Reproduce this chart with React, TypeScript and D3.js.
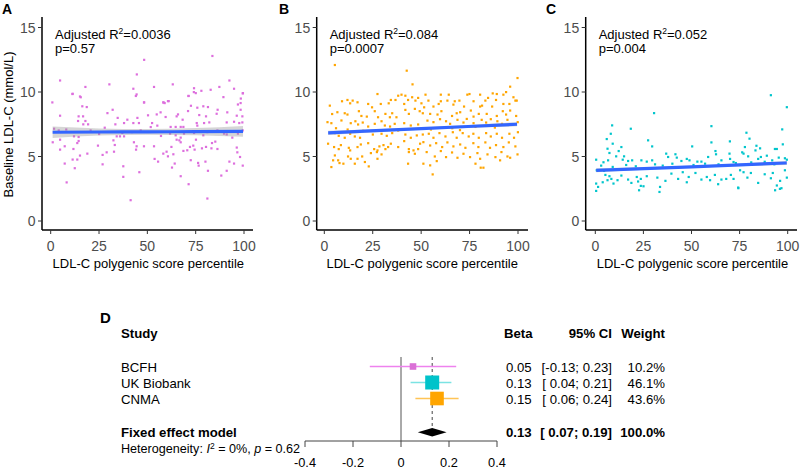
import React from "react";
import * as d3 from "d3";

type Pt = [number, number];

// Panel A (BCFH) : [percentile, LDL-C]
const scatterA: Pt[] = [
[0.8,9.2],[4.8,10.9],[11.2,9.85],[15.5,9.6],[17.9,10.4],[30.3,10.6],[42.7,10.26],[44.5,11.37],[44,9.7],[48.3,12.5],[53.4,10.4],[48.3,9.2],[63.1,10.6],[74.1,10.3],[71.2,9.7],[74,10.0],[77.9,10.1],[83.6,12.8],[87.2,10.4],[92.4,10.9],[94.8,10.26],[99.3,9.9],[98.3,9.5],[58.3,9.2],[61,9.3],
[11.3,9.87],[15.1,9.66],[44.4,9.82],[71.3,9.7],[75,9.92],[82.7,10.18],[89.3,9.61],[99.4,9.92],[48.2,9.2],[58.2,9.2],[60.6,9.3],
[16.3,8.9],[18.6,8.84],[4.8,8.17],[14.4,8.12],[16.7,8.12],[14.1,7.76],[17.9,7.76],[19.3,7.5],[16.8,7.5],[29.3,8.37],[32,8.63],[34.6,8.0],[33.4,7.5],[37.9,7.6],[39.6,7.86],[42.7,7.6],[44.8,8.0],[45.6,7.6],[50.3,8.2],[52.4,7.6],[54.8,8.27],[56.8,8.43],[58.9,9.15],[59.4,8.07],[55.1,7.4],[65.1,8.12],[65.8,8.27],[68.2,7.86],[71,8.53],[72.5,8.94],[75.8,8.79],[78.9,8.9],[81.3,8.84],[76.8,8.22],[80.3,8.12],[82,7.65],[79.3,7.6],[75.8,7.4],[86.3,8.63],[85.8,8.32],[91.3,8.43],[96.8,9.04],[98.2,9.15],[96.2,8.17],[98.2,8.63],[99.1,8.12],[91,7.65],[94.8,7.7],[97.5,7.6],[99.1,7.65],[67.2,7.3],[75.5,7.6],[62,7.3],[64.6,7.3],[68.6,7.3],
[1.7,7.16],[4.1,7.03],[12,6.57],[14.4,6.52],[20.6,7.03],[27.9,7.24],[34.1,6.57],[37.9,6.57],[35.8,6.57],[46.5,7.03],[51.7,7.29],[61.7,6.78],[64.6,6.65],[67.2,6.47],[68.9,6.78],[74.1,6.83],[78.9,6.65],[81,6.9],[86.2,7.03],[89.6,6.78],[93.9,6.47],[96.8,6.78],[99.3,7.03],[91,6.72],[37,6.83],[8,7.1],[25,6.75],[42,6.9],[57,6.6],
[1,6.11],[4.8,6.31],[14.4,6.21],[13.7,6.05],[7.2,5.8],[4.8,5.54],[11.7,5.59],[15.1,5.08],[13.7,4.77],[11.3,4.77],[7.2,4.46],[18.9,5.23],[24.4,5.85],[26.8,5.13],[28.9,5.33],[32.4,6.26],[33.1,5.9],[32.7,5.38],[26.8,4.4],[37.5,4.25],[43,6.11],[44.4,5.8],[44.1,5.54],[48.2,5.8],[53.4,5.8],[53.7,4.82],[55.5,4.61],[58.2,5.23],[59.9,5.38],[60.6,5.02],[62.4,5.75],[63.4,5.18],[62.7,4.15],[64.1,4.46],[65.1,6.31],[66.5,6.26],[67.2,6.11],[68.6,5.44],[70.6,5.49],[72,5.75],[73.7,5.85],[74.4,5.54],[75.1,6.31],[76.2,4.51],[76.5,4.3],[78.2,5.64],[80.3,5.75],[83.1,5.64],[83.4,6.05],[85.1,6.16],[86.2,5.59],[80,4.61],[81.3,3.9],[72.4,4.72],[92.4,4.61],[94.8,4.46],[96.5,5.33],[96.2,5.7],[97.9,4.97],[99.3,4.3],[91,3.9],
[12.4,4.1],[8.2,3.0],[37.5,3.43],[45.8,3.79],[67.2,3.48],[71.3,2.86],[88.2,3.53],[41.3,1.62],[81,1.75]
];

// Panel B (UK Biobank)
const scatterB: Pt[] = [
[5.4,12.1],[42.5,11.66],[45.5,10.6],[27.4,9.85],[2.8,8.95],[9.1,9.29],[11.9,9.39],[13.3,9.13],[14.6,9.34],[17.1,9.21],[22.6,9.08],[24.6,8.82],[29.1,9.08],[33.2,9.13],[34.3,9.39],[36.7,9.39],[38.1,9.72],[39.8,9.8],[41.8,9.72],[43.2,9.39],[45.3,9.6],[47,9.34],[48.4,9.55],[50.1,9.13],
[4,8.3],[6.7,8.44],[10.5,8.36],[11.9,8.26],[17.8,8.52],[19.1,8.15],[21.9,8.1],[26,8.52],[27.7,8.05],[31.5,8.31],[35,8.36],[33.8,8.05],[37.2,8.05],[41.8,8.62],[43.6,8.31],[46.7,8.7],[49.2,8.52],[41.2,9.08],
[1.6,7.67],[3.6,7.59],[8.8,7.8],[13.6,7.59],[16,7.74],[17.4,7.49],[19.8,7.64],[22.6,7.33],[26,7.54],[29.5,7.74],[31.2,7.41],[33.9,7.33],[36.3,7.54],[41.2,7.59],[44.6,7.41],[48.4,7.49],[5.4,6.82],[7.4,6.61],[10.5,6.46],[13.3,6.77],[15.7,6.56],[18.4,6.46],[25,6.71],[29.5,6.77],[32.2,6.61],[35,6.82],[41.8,6.71],[44.6,6.46],[47.7,6.64],[27.7,7.02],[38.1,7.02],[6,7.2],[20,7.0],[12,7.1],
[1.9,6],[5,5.74],[7.4,5.58],[8.5,5.89],[12.6,5.68],[13.3,5.48],[17.1,5.74],[18.8,5.94],[22.6,6.04],[25.7,5.58],[27.4,5.48],[28.4,5.79],[30.5,5.89],[31.5,5.58],[32.9,5.74],[34.3,6],[38.1,5.74],[43.6,5.58],[46,5.48],[48.4,5.58],[49.4,6],[41.2,6.2],[5.4,5.09],[12.2,5.01],[19.5,5.01],[24,5.27],[27.1,5.35],[29.5,5.17],[43.6,5.35],[46.7,5.22],
[3.6,4.19],[7.1,4.71],[7.8,4.5],[13.6,4.83],[15.7,4.45],[20.9,4.58],[22.9,4.24],[17.1,4.83],[27.4,4.83],[43.2,4.45],[4.5,4.71],[9.8,4.45],
[99.7,11.09],[95.9,10.42],[93.8,10.0],[92.4,9.8],[86.9,9.9],[89,9.85],[80.4,9.8],[74.9,9.85],[73.8,9.8],[64.2,9.8],[60.1,9.8],[52.2,9.8],[97.6,9.6],[53.7,9.34],[60.1,9.29],[63.5,9.34],[67.3,9.29],[69.7,9.34],[77,9.29],[83.1,9.34],[84.5,9.55],[88.6,9.39],[98.6,9.34],[99.3,9.34],
[51.5,8.82],[56.3,8.88],[59,9.08],[66.6,9.03],[72.1,8.88],[80.4,8.88],[81.4,8.95],[86.6,8.88],[92.4,9.08],[95.5,9.08],[50.8,8.36],[54.6,8.31],[58.4,8.26],[60.4,8.52],[65.9,8.15],[68.3,8.36],[70.1,8.44],[75.6,8.57],[77,8.1],[79.7,8.31],[83.8,8.31],[89,8.15],[92.1,8.52],[93.8,8.26],[95.9,8.57],[99,8.15],
[53.2,7.79],[56.3,7.67],[59.7,7.9],[62.8,7.74],[64.9,7.54],[68.7,7.85],[71.8,7.64],[73.5,7.92],[77,7.59],[81.2,7.85],[83.5,7.64],[85.9,7.9],[89.3,7.74],[91.7,7.54],[94.5,7.85],[96.9,7.49],[99.8,7.67],[55,7.1],[66,7.2],[78,7.3],[88,7.25],[70,7.05],
[50.8,6.71],[53.9,6.77],[56.3,6.46],[59.4,6.82],[62.5,6.56],[66.3,6.89],[68.3,6.46],[71.4,6.82],[74.5,6.56],[76.9,6.77],[79.7,6.46],[83.5,6.82],[85.9,6.56],[89,6.77],[91.7,6.46],[95.5,6.77],[97.9,6.46],[99.9,6.89],
[51.1,6.12],[54.6,5.86],[57.7,6.04],[60.8,5.74],[63.5,6.1],[66.6,5.79],[70.1,5.94],[72.8,5.68],[76.9,6.04],[79.5,5.74],[83.1,6.1],[85.5,5.68],[88.6,5.89],[92.4,5.74],[95.2,6.1],[98.6,5.79],
[52.8,5.35],[57,5.01],[60.1,5.43],[62.8,4.96],[65.9,5.32],[68.7,4.91],[71.8,5.22],[75.2,4.96],[79,5.27],[80.4,4.83],[84.2,5.17],[88.3,4.96],[91.4,5.35],[94.5,5.01],[95.9,4.91],[99.7,5.17],
[51.1,4.45],[54.6,4.32],[58,4.65],[78,4.45],[80.7,4.14],[82.1,4.14],[55.9,3.62],[90.7,4.71]
];

// Panel C (CNMA)
const scatterC: Pt[] = [
[91.2,9.76],[99.5,8.83],[30.5,8.37],[8.7,7.42],[18.4,7.16],[60.3,7.36],[97.1,7.11],[8,6.77],[5.9,6.36],[27.4,6.26],[9,6.0],[6.3,5.61],[12.1,5.43],[13.5,5.74],[7.3,5.28],[29.5,5.79],[60.3,6.1],[69.9,6.18],[78.5,6.85],[80.1,6.39],[93.3,5.59],[97.4,5.95],[77.7,5.74],[83.7,5.84],[85.6,5.64],[50.3,5.79],[62.4,5.43],[76.3,5.33],[94.3,5.59],
[0.4,4.76],[4.2,4.56],[6.6,4.71],[10.8,5.02],[14.2,4.76],[14.9,5.02],[17,4.66],[19.1,4.71],[23.9,4.71],[26.7,4.61],[29.5,4.71],[36.8,5.23],[37.8,4.97],[41.6,5.18],[42.3,4.92],[44.7,4.66],[47.5,4.82],[48.9,4.71],[53,4.61],[55.1,4.61],[58.6,4.97],[62.7,5.18],[65.5,4.71],[69.7,5.23],[70,4.82],[71.8,4.58],[77,5.23],[79.4,5.02],[83.2,5.48],[84.6,4.82],[86,4.97],[89.1,5.07],[91.9,4.71],[95.3,4.92],[98.5,4.87],[99.5,4.76],
[3,4.3],[9,4.2],[16,4.35],[21,4.25],[31,4.4],[35,4.3],[40,4.45],[51,4.35],[57,4.45],[64,4.4],[73,4.5],[81,4.55],[88,4.6],[93,4.4],
[0.7,3.94],[4.5,3.89],[5.2,3.58],[7.3,3.48],[8.3,3.27],[6.3,3.17],[3.8,3.01],[0.4,2.91],[1.4,2.65],[9.4,2.91],[11.5,3.17],[13.5,3.53],[17,3.22],[18.7,2.96],[21.5,3.42],[22.2,3.07],[23.6,3.27],[26.7,3.48],[25,2.7],[32.2,3.37],[33.6,2.65],[36.4,3.12],[39.5,3.68],[43,3.27],[45.4,3.79],[47.5,3.01],[48.5,3.42],[52,3.73],[55.1,3.22],[57.9,3.42],[59.6,3.17],[62.1,3.58],[63.8,2.86],[65.5,3.22],[68,3.27],[70.4,3.58],[71.8,3.27],[75.2,3.94],[77,3.79],[79,3.37],[80.8,3.73],[84.6,2.96],[88,3.63],[91.2,3.32],[92.2,3.73],[94.3,2.76],[96,3.12],[98.5,3.94],[99.5,3.37],[74.2,2.6],[96.7,2.55],
[0.4,2.34],[22.7,2.39],[33.3,2.26],[74.3,2.55],[93.4,2.39],[95.9,2.5],[23.6,2.73]
];

// regression fits: [percentile, fitted, CI half-width]
const fitA: [number, number, number][] = [[1, 6.88, 0.45], [25, 6.9, 0.28], [50, 6.91, 0.22], [75, 6.93, 0.28], [99.5, 6.95, 0.42]];
const fitB: [number, number, number][] = [[2, 6.83, 0.16], [50, 7.16, 0.08], [99.5, 7.5, 0.16]];
const fitC: [number, number, number][] = [[0.5, 3.93, 0.16], [50, 4.2, 0.08], [99.5, 4.5, 0.16]];

const yTicks = [0, 5, 10, 15];
const xTicks = [0, 25, 50, 75, 100];

const r2Labels = ["0.0036", "0.084", "0.052"];
const pLabels = ["p=0.57", "p=0.0007", "p=0.004"];
const panelLetters = ["A", "B", "C"];

// Forest plot
const studies = ["BCFH", "UK Biobank", "CNMA"];
const betas = [0.05, 0.13, 0.15];
const ciLow = [-0.13, 0.04, 0.06];
const ciHigh = [0.23, 0.21, 0.24];
const weights = [10.2, 46.1, 43.6];
const betaLabels = ["0.05", "0.13", "0.15"];
const ciLabels = ["[-0.13; 0.23]", "[ 0.04; 0.21]", "[ 0.06; 0.24]"];
const weightLabels = ["10.2%", "46.1%", "43.6%"];
const pooled = { beta: 0.13, lo: 0.07, hi: 0.19, betaLabel: "0.13", ciLabel: "[ 0.07; 0.19]", weightLabel: "100.0%" };
const forestTicks = [-0.4, -0.2, 0, 0.2, 0.4];
const forestTickLabels = ["-0.4", "-0.2", "0", "0.2", "0.4"];

const FONT = "'Liberation Sans', Arial, Helvetica, sans-serif";
const scatterColors = ["#dd6fdd", "#ffa500", "#00c5cc"];
const ciLineColors = ["#ee82ee", "#7be3e3", "#ffc456"];
const squareColors = ["#da70d6", "#00c3ca", "#ffa500"];

type PanelProps = {
  idx: number;
  pts: Pt[];
  fit: [number, number, number][];
  axisX: number;
  x0: number;
  x100: number;
  xEnd: number;
  showYTitle?: boolean;
};

function Panel({ idx, pts, fit, axisX, x0, x100, xEnd, showYTitle }: PanelProps) {
  const x = d3.scaleLinear().domain([0, 100]).range([x0, x100]);
  const y = d3.scaleLinear().domain([0, 15]).range([221, 27.5]);
  const axisY = 230;
  const band = d3
    .area<[number, number, number]>()
    .x((d) => x(d[0]))
    .y0((d) => y(d[1] - d[2]))
    .y1((d) => y(d[1] + d[2]))
    .curve(d3.curveMonotoneX)(fit);
  const line = d3
    .line<[number, number, number]>()
    .x((d) => x(d[0]))
    .y((d) => y(d[1]))
    .curve(d3.curveMonotoneX)(fit);
  const letterX = [2, 279, 546][idx];
  const textX = axisX + 13;
  return (
    <g fontFamily={FONT}>
      <text x={letterX} y={14} fontSize={14} fontWeight="bold" fill="#000">
        {panelLetters[idx]}
      </text>
      {pts.map((p, i) => (
        <rect key={i} x={x(p[0]) - 1} y={y(p[1]) - 1} width={2.2} height={2.2} fill={scatterColors[idx]} />
      ))}
      <path d={band || ""} fill="#999999" opacity={0.4} />
      <path d={line || ""} fill="none" stroke="#3366ff" strokeWidth={3.2} />
      <line x1={axisX} x2={axisX} y1={17} y2={axisY} stroke="#000" strokeWidth={1.5} />
      <line x1={axisX} x2={xEnd} y1={axisY} y2={axisY} stroke="#000" strokeWidth={1.5} />
      {yTicks.map((t) => (
        <g key={t}>
          <line x1={axisX - 4} x2={axisX} y1={y(t)} y2={y(t)} stroke="#333" strokeWidth={1} />
          <text x={axisX - 6.5} y={y(t) + 5} fontSize={14} textAnchor="end" fill="#4d4d4d">
            {t}
          </text>
        </g>
      ))}
      {xTicks.map((t) => (
        <g key={t}>
          <line x1={x(t)} x2={x(t)} y1={axisY} y2={axisY + 4} stroke="#333" strokeWidth={1} />
          <text x={x(t)} y={250.5} fontSize={14} textAnchor="middle" fill="#4d4d4d">
            {t}
          </text>
        </g>
      ))}
      <text x={(x0 + x100) / 2 + 1} y={267.5} fontSize={13} textAnchor="middle" fill="#000">
        LDL-C polygenic score percentile
      </text>
      {showYTitle && (
        <text transform="translate(12.5,124.5) rotate(-90)" fontSize={13} textAnchor="middle" fill="#000">
          Baseline LDL-C (mmol/L)
        </text>
      )}
      <text x={textX} y={39} fontSize={13} fill="#000">
        Adjusted R
        <tspan dy={-5} fontSize={8.5}>
          2
        </tspan>
        <tspan dy={5}>={r2Labels[idx]}</tspan>
      </text>
      <text x={textX} y={53} fontSize={13} fill="#000">
        {pLabels[idx]}
      </text>
    </g>
  );
}

function Forest() {
  const fx = d3.scaleLinear().domain([-0.4, 0.4]).range([305, 497]);
  const size = d3.scaleSqrt().domain([0, 46.1]).range([0, 14]);
  const rowBase = [372, 388, 404];
  const axisY = 441;
  const diamondY = 432.3;
  const dh = 4.2;
  return (
    <g fontFamily={FONT} fontSize={13.2} fill="#000">
      <text x={100} y={323} fontSize={15} fontWeight="bold">D</text>
      <text x={121} y={338} fontWeight="bold">Study</text>
      <text x={504} y={338} fontWeight="bold">Beta</text>
      <text x={612} y={338} fontWeight="bold" textAnchor="end">95% CI</text>
      <text x={665} y={338} fontWeight="bold" textAnchor="end">Weight</text>
      <line x1={fx(0)} x2={fx(0)} y1={357} y2={axisY} stroke="#555" strokeWidth={1} />
      <line x1={fx(pooled.beta)} x2={fx(pooled.beta)} y1={357} y2={428} stroke="#444" strokeWidth={1} strokeDasharray="3,3" />
      {studies.map((s, i) => {
        const cy = rowBase[i] - 5.5;
        const sz = size(weights[i]);
        return (
          <g key={s}>
            <text x={121} y={rowBase[i]}>{s}</text>
            <line x1={fx(ciLow[i])} x2={fx(ciHigh[i])} y1={cy} y2={cy} stroke={ciLineColors[i]} strokeWidth={1.3} />
            <rect x={fx(betas[i]) - sz / 2} y={cy - sz / 2} width={sz} height={sz} fill={squareColors[i]} />
            <text x={506} y={rowBase[i]}>{betaLabels[i]}</text>
            <text x={612} y={rowBase[i]} textAnchor="end" style={{ whiteSpace: "pre" }}>{ciLabels[i]}</text>
            <text x={665} y={rowBase[i]} textAnchor="end">{weightLabels[i]}</text>
          </g>
        );
      })}
      <text x={121} y={437} fontWeight="bold">Fixed effect model</text>
      <path
        d={`M${fx(pooled.lo)},${diamondY} L${fx(pooled.beta)},${diamondY - dh} L${fx(pooled.hi)},${diamondY} L${fx(pooled.beta)},${diamondY + dh} Z`}
        fill="#000"
      />
      <text x={506} y={437} fontWeight="bold">{pooled.betaLabel}</text>
      <text x={612} y={437} fontWeight="bold" textAnchor="end" style={{ whiteSpace: "pre" }}>{pooled.ciLabel}</text>
      <text x={665} y={437} fontWeight="bold" textAnchor="end">{pooled.weightLabel}</text>
      <text x={121} y={453} fontSize={12.6}>
        Heterogeneity: <tspan fontStyle="italic">I</tspan>
        <tspan dy={-4.5} fontSize={8.5}>2</tspan>
        <tspan dy={4.5}> = 0%, </tspan>
        <tspan fontStyle="italic">p</tspan>
        <tspan> = 0.62</tspan>
      </text>
      <line x1={fx(-0.4)} x2={fx(0.4)} y1={axisY} y2={axisY} stroke="#444" strokeWidth={1} />
      {forestTicks.map((t, i) => (
        <g key={t}>
          <line x1={fx(t)} x2={fx(t)} y1={axisY} y2={axisY + 6} stroke="#444" strokeWidth={1} />
          <text x={fx(t)} y={466.5} textAnchor="middle" fontSize={12.8}>{forestTickLabels[i]}</text>
        </g>
      ))}
    </g>
  );
}

export default function App() {
  return (
    <svg
      width={800}
      height={470}
      viewBox="0 0 800 470"
      style={{ position: "absolute", left: 0, top: 0, background: "#fff" }}
    >
      <rect width={800} height={470} fill="#fff" />
      <Panel idx={0} pts={scatterA} fit={fitA} axisX={42} x0={50.7} x100={244} xEnd={253} showYTitle />
      <Panel idx={1} pts={scatterB} fit={fitB} axisX={316.7} x0={324.3} x100={518} xEnd={528} />
      <Panel idx={2} pts={scatterC} fit={fitC} axisX={585.7} x0={595.3} x100={787.7} xEnd={797} />
      <Forest />
    </svg>
  );
}
